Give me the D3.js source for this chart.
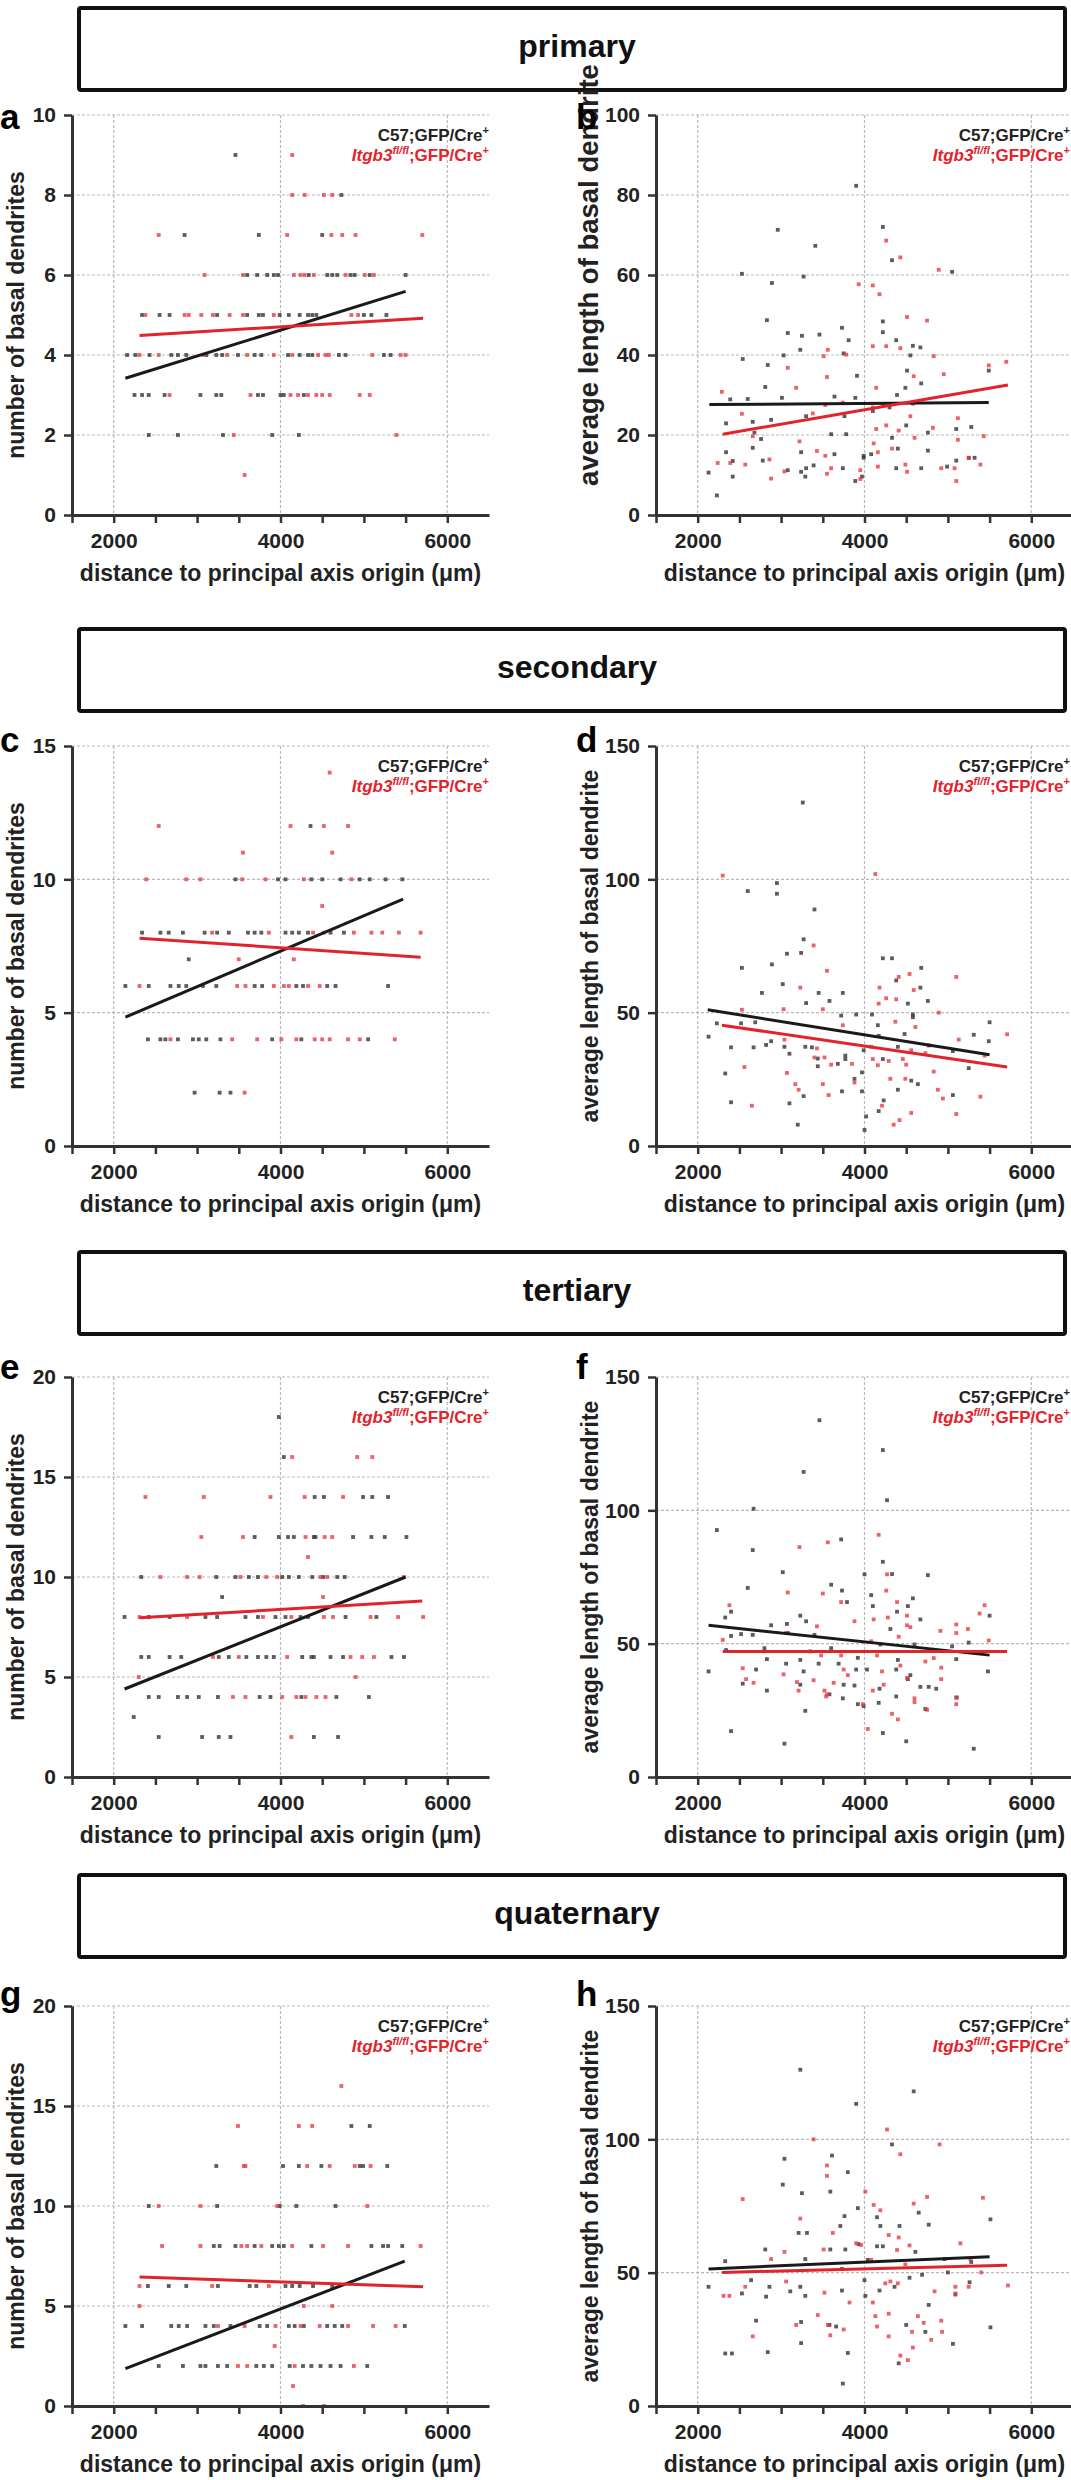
<!DOCTYPE html>
<html>
<head>
<meta charset="utf-8">
<script src="https://cdn.jsdelivr.net/npm/d3@7"></script>
<style>
  body { margin: 0; background: #fff; }
  svg { display: block; font-family: "Liberation Sans", Arial, Helvetica, sans-serif; font-weight: bold; }
</style>
</head>
<body>
<div id="fig"></div>
<script>
// ---- data ----
// count panels: [yValue, [x positions]]
const aC57 = [[9,[3460]],[8,[4730]],[7,[2850,3740,4500]],
  [6,[3600,3720,3840,3920,3970,4340,4560,4620,4680,4840,4890,5070,5500]],
  [5,[2340,2550,2670,3240,3600,3740,3790,3990,4100,4230,4330,4380,4430,5000,5090,5270]],
  [4,[2160,2260,2430,2690,2770,2870,3110,3230,3300,3490,3690,3770,4090,4230,4330,4380,4700,4780,5240,5320]],
  [3,[2250,2340,2420,2610,3040,3230,3290,3730,3790,4000,4040,4280]],
  [2,[2420,2770,3310,3900,4220]]];
const aItgb3 = [[9,[4140]],[8,[4140,4290,4520,4620]],[7,[2540,4080,4610,4740,4900,5700]],
  [6,[3090,3550,4160,4240,4290,4400,4780,5010,5120]],
  [5,[2380,2850,2900,3050,3190,3390,3550,3920,4850,4930]],
  [4,[2310,2540,3070,3360,3600,3920,4140,4450,4540,4580,5100,5440,5500]],
  [3,[2670,3640,4120,4210,4330,4430,4500,4590,4950,5070]],
  [2,[3440,5390]],[1,[3570]]];

const cC57 = [[12,[4360]],
  [10,[3460,3970,4060,4370,4500,4720,4950,5070,5260,5460]],
  [8,[2340,2560,2660,2830,3090,3240,3380,3610,3690,3770,4060,4140,4220,4330,4600,4760]],
  [7,[2900]],
  [6,[2140,2420,2680,2780,2870,3070,3230,3690,3780,4190,4270,4560,4660,5290]],
  [4,[2410,2560,2620,2770,2950,3020,3110,3280,3900,4250,5050]],
  [2,[2970,3270,3400]]];
const cItgb3 = [[14,[4590]],[12,[2540,4120,4520,4810]],[11,[3550,4620]],
  [10,[2390,2870,3040,3540,3820,4280,4850]],[9,[4500]],
  [8,[3180,3860,4390,4520,4880,5090,5220,5420,5680]],[7,[3500,4160]],
  [6,[2310,3480,3580,3920,4040,4100,4330,4470]],
  [4,[2680,3420,3720,4010,4190,4410,4500,4590,4810,4950,5370]],[2,[3570]]];

const eC57 = [[18,[3980]],[16,[4040]],[14,[4410,4520,4990,5100,5290]],
  [12,[3690,3980,4090,4160,4400,4420,4870,5090,5250,5510]],
  [10,[2330,3230,3460,3620,3730,4020,4100,4220,4380,4510,4680,4770]],[9,[3300]],
  [8,[2130,2420,2670,3100,3240,3580,3730,3940,4060,4240,4330,4780,5150]],
  [6,[2330,2420,2670,2810,3260,3380,3590,3730,3830,3920,4260,4370,4400,4600,4750,5330,5480]],
  [4,[2420,2540,2770,2880,3020,3250,3750,3880,4250,4670,5060]],[3,[2240]],
  [2,[2540,3060,3260,3400,4400,4690]]];
const eItgb3 = [[16,[4140,4920,5100]],[14,[2380,3080,3880,4290,4750]],
  [12,[3050,3550,4300,4530,4620]],[11,[4330]],
  [10,[2560,2880,3030,3520,3830,3960,4480,4560,5480]],[9,[4510]],
  [8,[2310,2880,3790,4130,4520,4630,5080,5410,5710]],
  [6,[3190,3500,4080,4840,4980,5120]],[5,[2300,4900]],
  [4,[3430,3580,4020,4190,4300,4430,4540]],[2,[4130]]];

const gC57 = [[14,[4850,5070]],[12,[3230,4030,4220,4490,4950,4990,5280]],
  [10,[2420,3240,3990,4190,4660]],
  [8,[3200,3270,3460,3690,3900,3980,4040,4370,5090,5230,5290,5460]],
  [6,[2410,2660,2870,3250,3630,3710,4060,4140,4230,4390,4620]],
  [4,[2140,2340,2690,2780,2880,3100,3200,3400,3750,3840,4100,4170,4280,4560,4650,4740,5490]],
  [2,[2540,2830,3040,3100,3250,3360,3710,3800,3900,4110,4270,4370,4480,4600,4720,5040]]];
const gItgb3 = [[16,[4730]],[14,[3490,4220,4380]],[12,[3560,3580,4320,4590,4890,5080]],
  [10,[2540,3040,3960,5040]],[8,[2580,3040,3530,3600,3770,4140,4510,4810,5680]],
  [6,[2310,3180,3860]],[5,[2310,4280,4620]],
  [4,[3250,3570,3940,4240,4470,4810,5110,5380]],[3,[3930]],
  [2,[3490,3600,4170,4880]],[1,[4150]],[0,[4270,4520]]];

// length panels: [x, y]
const bC57 = [[3900,82.3],[2960,71.3],[3410,67.3],[4220,72.0],[2530,60.3],[3270,59.6],[2890,58.0],[4330,63.7],[5050,60.8],[2830,48.7],[4220,48.4],[4220,45.7],[3730,46.8],[3810,43.7],[3460,45.1],[3250,44.8],[3080,45.5],[4380,43.7],[4580,42.3],[4670,41.9],[2540,39.0],[3030,39.9],[3230,41.3],[3750,40.4],[4550,39.9],[2840,37.5],[3910,34.8],[4510,36.1],[4680,32.9],[4490,31.8],[5490,36.1],[4390,30.0],[2810,32.0],[2390,28.9],[2600,29.0],[3010,29.3],[3640,29.6],[3890,29.3],[2340,22.9],[2660,23.3],[2880,23.8],[3760,24.7],[3300,24.7],[4100,26.0],[4300,26.9],[4500,22.4],[4760,20.6],[5100,21.5],[5280,22.0],[2680,20.6],[2760,19.0],[3600,20.2],[3780,20.2],[4330,19.3],[4760,16.1],[2660,16.8],[2340,15.7],[3240,15.7],[3640,15.2],[3990,14.3],[4400,16.6],[2420,13.5],[2780,13.6],[3080,11.2],[3240,10.8],[3300,11.7],[3390,12.4],[3740,11.7],[3990,14.8],[4080,15.2],[4380,11.7],[4680,11.7],[4990,12.1],[5100,13.6],[5250,14.3],[5320,14.3],[3890,8.5],[3970,9.6],[2130,10.6],[2230,4.9],[3290,9.6],[2420,9.6]];
const bItgb3 = [[4260,68.6],[4430,64.4],[3930,57.7],[4100,57.4],[4180,55.2],[4890,61.3],[3560,41.3],[3510,39.7],[3780,40.1],[4100,42.2],[4260,42.2],[4430,41.7],[4510,49.5],[4750,48.6],[4830,39.7],[3080,36.8],[3550,34.5],[4140,31.8],[4590,34.7],[4950,35.2],[5490,37.4],[5700,38.3],[3180,31.8],[2290,30.8],[2530,25.3],[3380,25.4],[3530,27.5],[3740,28.1],[4100,26.9],[4220,27.4],[4580,27.8],[4550,24.7],[5120,24.2],[4260,22.4],[4140,21.5],[4820,21.8],[4410,21.1],[2660,19.7],[4600,19.3],[5120,18.8],[5430,19.7],[3220,18.4],[4110,17.9],[4160,15.7],[4330,16.6],[3430,16.0],[3530,14.8],[2390,13.0],[2570,12.6],[2860,13.9],[3040,10.9],[3550,10.3],[3600,11.7],[3950,11.2],[3950,9.0],[4160,12.1],[4490,12.6],[4510,10.8],[4920,11.7],[5080,11.7],[5100,8.5],[5390,12.6],[5250,14.3],[2880,9.1],[2240,13.0]];

const dC57 = [[3260,128.8],[2950,98.6],[2950,94.6],[2600,95.6],[3400,88.7],[3270,77.5],[3070,72.1],[3240,72.4],[2890,68.1],[2530,66.8],[3020,60.7],[4220,70.4],[4330,70.4],[4680,66.8],[4380,62.1],[2770,57.4],[3450,57.4],[3740,57.4],[3300,53.6],[3580,54.4],[4670,59.4],[4760,54.4],[4520,53.4],[3720,48.9],[3900,49.3],[4090,49.3],[4580,49.3],[4580,48.3],[5500,46.4],[2130,41.0],[2230,46.0],[2520,46.0],[2690,46.4],[2400,37.0],[2670,37.0],[2820,37.9],[2880,39.3],[3040,37.2],[3100,34.6],[3290,37.2],[3370,37.0],[3440,32.8],[3680,30.8],[3770,32.6],[3770,33.9],[3990,35.9],[4160,45.3],[4170,41.3],[4220,32.6],[4400,37.2],[4480,42.0],[4770,37.7],[5060,35.6],[5310,41.7],[5490,39.3],[5250,29.2],[2330,27.2],[3440,29.9],[3880,25.2],[3970,27.6],[4230,17.1],[4400,21.1],[4560,24.5],[4640,23.2],[5060,19.1],[2400,16.4],[3100,16.0],[3270,18.7],[3730,20.5],[3970,20.5],[4170,13.1],[4020,11.1],[4000,6.0],[3200,8.0]];
const dItgb3 = [[2300,101.4],[4130,102.0],[3390,75.2],[3550,65.7],[3230,59.4],[4180,59.4],[4410,63.4],[4540,64.5],[4590,58.5],[5100,63.4],[4260,55.4],[4380,55.0],[4170,53.4],[3500,51.3],[3030,51.3],[2530,51.1],[4890,50.0],[3740,45.3],[4370,46.6],[4610,44.6],[3040,39.9],[3430,36.6],[3520,33.2],[3600,30.5],[4080,37.2],[4100,32.6],[4160,30.3],[4460,32.6],[4560,35.9],[4730,34.8],[5130,39.9],[5440,33.9],[5710,41.9],[2560,29.6],[3070,27.4],[3170,23.2],[3210,21.1],[3400,33.2],[3500,23.2],[3570,19.1],[3850,30.8],[3880,23.8],[4290,31.9],[4310,25.2],[4500,30.5],[4490,25.2],[4830,27.9],[4880,21.1],[4940,17.8],[5100,12.0],[5390,18.5],[2650,15.1],[4210,15.1],[4420,9.7],[4560,12.4],[4350,8.0]];

const fC57 = [[3460,133.8],[4220,122.6],[3270,114.4],[4270,103.8],[2670,100.6],[2230,92.6],[3720,89.1],[2660,85.1],[3020,76.8],[4220,80.7],[4000,76.0],[4330,76.1],[4760,75.7],[2600,70.9],[3600,72.1],[3730,69.9],[4080,68.2],[4580,67.0],[3790,65.6],[4100,64.1],[4520,64.1],[4390,62.0],[2330,59.8],[2400,62.0],[3230,60.5],[3300,58.4],[4670,59.1],[5500,60.5],[3070,57.4],[2880,56.9],[4310,55.5],[2400,52.9],[2520,53.6],[2660,53.3],[3080,54.0],[3400,53.3],[4190,49.7],[4600,49.7],[5050,49.0],[5250,50.4],[2340,47.6],[2800,48.3],[3350,47.1],[3600,48.3],[3920,44.7],[4400,43.9],[5100,44.2],[2830,44.2],[3060,42.5],[3230,43.9],[3450,42.5],[3690,42.5],[2130,39.6],[2700,40.3],[3270,39.6],[3900,40.3],[4030,40.3],[4380,40.3],[4520,36.7],[4550,38.2],[5480,39.6],[2540,35.0],[3230,34.6],[3750,34.6],[3880,34.3],[4180,33.1],[4670,33.8],[4770,33.8],[4860,33.1],[2830,32.4],[3580,31.0],[3920,27.3],[3990,26.6],[4170,27.8],[4380,30.2],[4730,25.5],[3740,29.5],[5100,29.8],[3290,24.8],[2400,17.2],[4220,16.5],[3040,12.5],[4500,13.4],[5310,10.6]];
const fItgb3 = [[4170,90.8],[3560,88.0],[3220,86.2],[4270,76.0],[3080,69.2],[3500,68.8],[4260,69.9],[3720,65.6],[2380,64.4],[4390,65.6],[5440,64.4],[4110,59.1],[3880,58.4],[4280,59.8],[4510,60.5],[5380,61.3],[3430,56.5],[4510,56.9],[4550,56.2],[5100,57.2],[5240,55.5],[4910,54.8],[3060,54.0],[4410,52.6],[2300,51.4],[5100,54.0],[5490,51.2],[4080,50.9],[3480,45.6],[3720,45.6],[4150,45.6],[4830,44.6],[4730,43.3],[2540,40.8],[4430,41.8],[3750,40.3],[3030,38.5],[3800,38.2],[4210,39.6],[4920,41.0],[2670,35.3],[2580,36.7],[3190,35.6],[3390,36.3],[3630,35.3],[4510,37.2],[4920,36.7],[4230,34.6],[4100,32.4],[3520,32.4],[3210,32.4],[3540,30.2],[3550,31.0],[4600,29.5],[4600,28.1],[5100,27.3],[5110,29.8],[4750,25.2],[4330,23.7],[4400,21.6],[4040,18.0],[3980,27.3]];

const hC57 = [[3230,126.1],[3900,113.3],[4590,118.0],[4330,98.1],[3040,92.7],[3610,93.9],[3020,83.0],[3800,87.7],[3250,79.8],[3590,80.4],[3760,71.2],[3920,74.2],[4150,70.8],[4650,72.5],[4770,68.0],[4420,67.5],[4190,67.5],[3210,64.9],[3310,64.9],[3710,67.5],[2810,58.7],[3590,58.7],[3770,58.7],[3930,60.7],[4150,59.9],[4220,59.9],[4040,54.8],[3290,55.1],[2330,54.3],[4610,57.8],[5510,70.0],[5000,50.1],[5260,46.4],[5280,54.0],[4540,48.1],[4690,49.2],[4960,55.1],[4000,47.2],[4010,41.3],[4360,44.7],[4180,43.3],[3730,43.3],[3290,41.3],[3110,43.0],[3230,44.7],[2860,44.7],[2640,47.2],[2530,42.2],[2130,44.7],[2820,41.0],[3730,51.4],[4770,37.9],[5090,41.8],[4500,30.4],[4730,27.8],[5510,29.5],[2700,32.0],[3240,31.5],[3580,30.4],[3660,29.8],[2840,20.2],[3240,23.6],[2330,19.7],[2410,19.7],[3800,19.9],[4410,16.0],[5060,23.3],[3740,8.4]];
const hItgb3 = [[4270,103.7],[3390,100.0],[4900,98.1],[4430,94.4],[3550,90.2],[3550,86.3],[2540,77.6],[4750,78.4],[5420,78.1],[4010,80.4],[4110,75.4],[4190,73.4],[4590,75.9],[3230,70.3],[3620,64.9],[4410,63.2],[4390,58.5],[4540,60.2],[4290,64.1],[3900,61.0],[3960,60.4],[4080,54.8],[3510,58.7],[3040,57.8],[2880,55.1],[5150,61.0],[5400,50.1],[5270,55.1],[5720,45.2],[4490,53.1],[2310,41.3],[2380,41.3],[2570,44.7],[3060,46.7],[3520,42.5],[3820,38.8],[4100,38.8],[4250,46.0],[4310,46.7],[4400,46.0],[4840,43.0],[5090,44.7],[5090,42.2],[5250,44.7],[4130,33.7],[4290,34.6],[4640,33.7],[4710,31.2],[4920,32.0],[4150,29.8],[3440,34.1],[3560,30.4],[3750,28.7],[3180,30.4],[4290,26.1],[4570,27.8],[4930,27.8],[4800,24.8],[2660,26.1],[3590,26.5],[4430,18.9],[4520,17.2],[4580,21.9]];

// regression lines: [[x1,y1],[x2,y2]]
const fitA = { c57: [[2140,3.42],[5500,5.59]], itgb3: [[2310,4.49],[5710,4.92]] };
const fitB = { c57: [[2140,27.6],[5490,28.1]], itgb3: [[2300,20.2],[5720,32.5]] };
const fitC = { c57: [[2140,4.83],[5470,9.26]], itgb3: [[2310,7.79],[5680,7.08]] };
const fitD = { c57: [[2120,51.1],[5500,34.2]], itgb3: [[2290,45.3],[5710,29.6]] };
const fitE = { c57: [[2130,4.4],[5500,10.0]], itgb3: [[2310,7.96],[5700,8.8]] };
const fitF = { c57: [[2130,56.9],[5500,45.7]], itgb3: [[2300,47.1],[5710,47.1]] };
const fitG = { c57: [[2140,1.87],[5490,7.24]], itgb3: [[2310,6.45],[5710,5.96]] };
const fitH = { c57: [[2130,51.4],[5500,56.0]], itgb3: [[2290,50.1],[5710,52.8]] };

// axes
const xDomain = [1500, 6500];
const xMajor = [2000, 4000, 6000];
const xTicks = [1500, 2000, 2500, 3000, 3500, 4000, 4500, 5000, 5500, 6000];
const yTicks10 = [0, 2, 4, 6, 8, 10];
const yTicks15 = [0, 5, 10, 15];
const yTicks20 = [0, 5, 10, 15, 20];
const yTicks100 = [0, 20, 40, 60, 80, 100];
const yTicks150 = [0, 50, 100, 150];

const sectionTitles = ["primary", "secondary", "tertiary", "quaternary"];
const countLabel = "number of basal dendrites";
const lengthLabel = "average length of basal dendrite";
const xLabel = "distance to principal axis origin (\u03bcm)";

// ---- layout ----
const W = 1071, H = 2480;
const headerTops = [6, 627, 1250, 1873];
const panelTops = [115, 746, 1377, 2006];
const letterDy = [14, 6, 2, 0];
const axisX = [72, 656];
const plotW = 417, plotH = 400;
const BLACK = "#222", RED = "#e3232b";

const levels = rows => rows.flatMap(([v, xs]) => xs.map(x => [x, v]));

const panels = [
  { row: 0, col: 0, letter: "a", ticks: yTicks10, c57: levels(aC57), itgb3: levels(aItgb3), fit: fitA },
  { row: 0, col: 1, letter: "b", ticks: yTicks100, c57: bC57, itgb3: bItgb3, fit: fitB, big: true },
  { row: 1, col: 0, letter: "c", ticks: yTicks15, c57: levels(cC57), itgb3: levels(cItgb3), fit: fitC },
  { row: 1, col: 1, letter: "d", ticks: yTicks150, c57: dC57, itgb3: dItgb3, fit: fitD },
  { row: 2, col: 0, letter: "e", ticks: yTicks20, c57: levels(eC57), itgb3: levels(eItgb3), fit: fitE },
  { row: 2, col: 1, letter: "f", ticks: yTicks150, c57: fC57, itgb3: fItgb3, fit: fitF },
  { row: 3, col: 0, letter: "g", ticks: yTicks20, c57: levels(gC57), itgb3: levels(gItgb3), fit: fitG },
  { row: 3, col: 1, letter: "h", ticks: yTicks150, c57: hC57, itgb3: hItgb3, fit: fitH }
];

const svg = d3.select("#fig").append("svg")
  .attr("width", W)
  .attr("height", H);

// section headers
sectionTitles.forEach((t, i) => {
  svg.append("rect")
    .attr("x", 79).attr("y", headerTops[i] + 2)
    .attr("width", 986).attr("height", 82)
    .attr("rx", 2)
    .attr("fill", "none")
    .attr("stroke", "#111")
    .attr("stroke-width", 4);
  svg.append("text")
    .attr("x", 577).attr("y", headerTops[i] + 51)
    .attr("text-anchor", "middle")
    .style("font-size", "32px")
    .attr("fill", "#111")
    .text(t);
});

function drawPanel(p) {
  const left = axisX[p.col];
  const top = panelTops[p.row];
  const yMax = p.ticks[p.ticks.length - 1];

  const x = d3.scaleLinear().domain(xDomain).range([left, left + plotW]);
  const y = d3.scaleLinear().domain([0, yMax]).range([top + plotH, top]);

  const g = svg.append("g");

  // dotted grid
  g.selectAll(".hgrid")
    .data(p.ticks.filter(t => t > 0))
    .enter().append("line")
    .attr("x1", left).attr("x2", left + plotW)
    .attr("y1", d => y(d)).attr("y2", d => y(d))
    .attr("stroke", "#b8b8b8").attr("stroke-width", 1.2)
    .attr("stroke-dasharray", "3,2");
  g.selectAll(".vgrid")
    .data(xMajor)
    .enter().append("line")
    .attr("x1", d => x(d)).attr("x2", d => x(d))
    .attr("y1", top).attr("y2", top + plotH)
    .attr("stroke", "#b8b8b8").attr("stroke-width", 1.2)
    .attr("stroke-dasharray", "3,2");

  // points
  const s = 3.8;
  g.selectAll(".pc57")
    .data(p.c57)
    .enter().append("rect")
    .attr("x", d => x(d[0]) - s / 2).attr("y", d => y(d[1]) - s / 2)
    .attr("width", s).attr("height", s)
    .attr("fill", "#333").attr("opacity", 0.8);
  g.selectAll(".pitgb3")
    .data(p.itgb3)
    .enter().append("rect")
    .attr("x", d => x(d[0]) - s / 2).attr("y", d => y(d[1]) - s / 2)
    .attr("width", s).attr("height", s)
    .attr("fill", "#ea3a43").attr("opacity", 0.8);

  // regression lines
  const line = d3.line().x(d => x(d[0])).y(d => y(d[1]));
  g.append("path").attr("d", line(p.fit.c57))
    .attr("stroke", "#1a1a1a").attr("stroke-width", 3).attr("fill", "none");
  g.append("path").attr("d", line(p.fit.itgb3))
    .attr("stroke", RED).attr("stroke-width", 3).attr("fill", "none");

  // axes
  const xAxis = g.append("g")
    .attr("transform", `translate(0,${top + plotH})`)
    .call(d3.axisBottom(x).tickValues(xTicks).tickSize(8).tickSizeOuter(0).tickPadding(10)
      .tickFormat(d => xMajor.includes(d) ? d : ""));
  const yAxis = g.append("g")
    .attr("transform", `translate(${left},0)`)
    .call(d3.axisLeft(y).tickValues(p.ticks).tickSize(8).tickSizeOuter(0).tickPadding(8));

  [xAxis, yAxis].forEach(a => {
    a.attr("font-family", null).attr("font-size", null);
    a.select(".domain").attr("stroke", "#333").attr("stroke-width", 3);
    a.selectAll(".tick line").attr("stroke", "#333").attr("stroke-width", 2.5);
    a.selectAll(".tick text").attr("fill", BLACK).style("font-size", "21px");
  });

  // axis titles
  g.append("text")
    .attr("x", left + plotW / 2).attr("y", top + plotH + 66)
    .attr("text-anchor", "middle")
    .attr("fill", BLACK)
    .style("font-size", "23px")
    .text(xLabel);

  const yl = p.col === 0 ? countLabel : lengthLabel;
  const ylx = p.col === 0 ? 16 : (p.big ? 588 : 590);
  const ylc = p.big ? top + 160 : top + plotH / 2;
  g.append("text")
    .attr("transform", `translate(${ylx},${ylc}) rotate(-90)`)
    .attr("text-anchor", "middle")
    .attr("dominant-baseline", "central")
    .attr("fill", BLACK)
    .style("font-size", p.big ? "27.5px" : "23px")
    .text(yl);

  // panel letter
  g.append("text")
    .attr("x", p.col === 0 ? 0 : 576)
    .attr("y", top + letterDy[p.row])
    .attr("fill", "#000")
    .style("font-size", "35px")
    .text(p.letter);

  // legend
  const lx = p.col === 0 ? left + plotW : 1070;
  const l1 = g.append("text")
    .attr("x", lx).attr("y", top + 26)
    .attr("text-anchor", "end")
    .attr("fill", BLACK)
    .style("font-size", "17px");
  l1.append("tspan").text("C57;GFP/Cre");
  l1.append("tspan").attr("dy", -7).style("font-size", "11px").text("+");

  const l2 = g.append("text")
    .attr("x", lx).attr("y", top + 46)
    .attr("text-anchor", "end")
    .attr("fill", RED)
    .style("font-size", "17px");
  l2.append("tspan").style("font-style", "italic").text("Itgb3");
  l2.append("tspan").attr("dy", -7).style("font-style", "italic").style("font-size", "11px").text("fl/fl");
  l2.append("tspan").attr("dy", 7).text(";GFP/Cre");
  l2.append("tspan").attr("dy", -7).style("font-size", "11px").text("+");
}

panels.forEach(drawPanel);
</script>
</body>
</html>
